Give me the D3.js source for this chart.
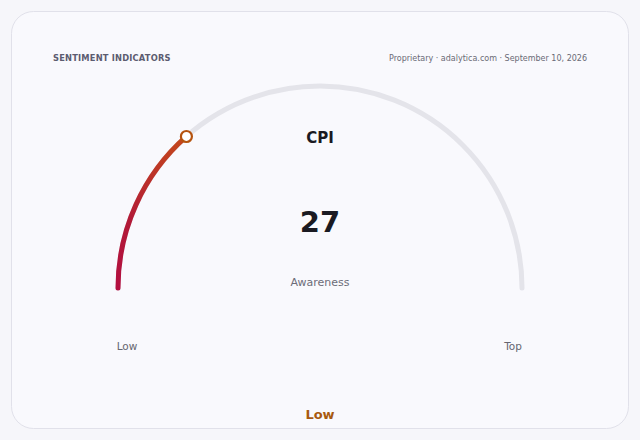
<!DOCTYPE html>
<html>
<head>
<meta charset="utf-8">
<script src="https://cdn.jsdelivr.net/npm/d3@7"></script>
<style>
  html, body { margin: 0; padding: 0; background: #f6f6fa; }
  svg { display: block; font-family: "DejaVu Sans", sans-serif; }
</style>
</head>
<body>
<svg id="chart" width="640" height="440"></svg>
<script>
// gauge data
var indicator = ["CPI"];
var values = [27];
var domainEnds = [0, 100];
var endLabels = ["Low", "Top"];
var subtitle = ["Awareness"];
var bandLabel = ["Low"];

var svg = d3.select("#chart");

// card
svg.append("rect")
  .attr("x", 11.5).attr("y", 11.5)
  .attr("width", 617).attr("height", 417)
  .attr("rx", 22)
  .attr("fill", "#f9f9fd")
  .attr("stroke", "#e1e1ea");

svg.append("text")
  .attr("x", 53).attr("y", 61)
  .attr("font-size", 8.3).attr("font-weight", "bold")
  .attr("letter-spacing", 0.2)
  .attr("fill", "#5c5c70")
  .text("SENTIMENT INDICATORS");

svg.append("text")
  .attr("x", 587).attr("y", 61)
  .attr("text-anchor", "end")
  .attr("font-size", 8)
  .attr("fill", "#6a6a76")
  .text("Proprietary · adalytica.com · September 10, 2026");

var cx = 320, cy = 288, r = 202;

// value -> angle (radians, 0 = up)
var angle = d3.scaleLinear().domain(domainEnds).range([-Math.PI / 2, Math.PI / 2]);

var g = svg.append("g").attr("transform", "translate(" + cx + "," + cy + ")");

var trackPath = d3.path();
trackPath.arc(0, 0, r, Math.PI, 2 * Math.PI);
g.append("path")
  .attr("d", trackPath)
  .attr("fill", "none")
  .attr("stroke", "#e4e4ea")
  .attr("stroke-width", 5)
  .attr("stroke-linecap", "round");

// gradient along the filled part (bottom -> marker)
var a1 = angle(values[0]);
var mx = r * Math.sin(a1), my = -r * Math.cos(a1);
var grad = svg.append("defs").append("linearGradient")
  .attr("id", "valGrad")
  .attr("gradientUnits", "userSpaceOnUse")
  .attr("x1", 0).attr("y1", 0)
  .attr("x2", 0).attr("y2", my);
grad.append("stop").attr("offset", "0%").attr("stop-color", "#b30f40");
grad.append("stop").attr("offset", "45%").attr("stop-color", "#b21a37");
grad.append("stop").attr("offset", "100%").attr("stop-color", "#c4481c");

var valPath = d3.path();
valPath.arc(0, 0, r, Math.PI, Math.PI + (a1 + Math.PI / 2));
g.append("path")
  .attr("d", valPath)
  .attr("fill", "none")
  .attr("stroke", "url(#valGrad)")
  .attr("stroke-width", 5)
  .attr("stroke-linecap", "round");

g.append("circle")
  .attr("cx", mx).attr("cy", my)
  .attr("r", 5.5)
  .attr("fill", "#ffffff")
  .attr("stroke", "#b5530f")
  .attr("stroke-width", 2.2);

svg.append("text")
  .attr("x", cx).attr("y", 143)
  .attr("text-anchor", "middle")
  .attr("font-size", 15).attr("font-weight", "bold")
  .attr("fill", "#1a1a22")
  .text(indicator[0]);

svg.append("text")
  .attr("x", cx).attr("y", 232)
  .attr("text-anchor", "middle")
  .attr("font-size", 29).attr("font-weight", "bold")
  .attr("fill", "#1a1a22")
  .text(values[0]);

svg.append("text")
  .attr("x", cx).attr("y", 286)
  .attr("text-anchor", "middle")
  .attr("font-size", 11)
  .attr("fill", "#6c6c78")
  .text(subtitle[0]);

svg.append("text")
  .attr("x", cx - r + 9).attr("y", 350)
  .attr("text-anchor", "middle")
  .attr("font-size", 10.5)
  .attr("fill", "#666670")
  .text(endLabels[0]);

svg.append("text")
  .attr("x", cx + r - 9).attr("y", 350)
  .attr("text-anchor", "middle")
  .attr("font-size", 10.5)
  .attr("fill", "#666670")
  .text(endLabels[1]);

svg.append("text")
  .attr("x", cx).attr("y", 419)
  .attr("text-anchor", "middle")
  .attr("font-size", 13).attr("font-weight", "bold")
  .attr("fill", "#a85a10")
  .text(bandLabel[0]);
</script>
</body>
</html>
